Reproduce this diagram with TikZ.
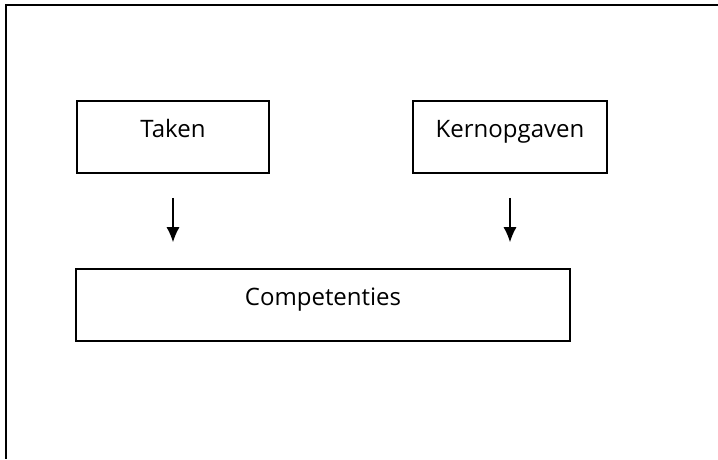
\documentclass[tikz,border=0pt]{standalone}
\usepackage{fontspec}
\setmainfont{Open Sans}
\usetikzlibrary{arrows.meta}
\begin{document}
\begin{tikzpicture}[x=1pt,y=-1pt,
	vak/.style={draw,rectangle,line width=1.6pt,minimum height=72pt,inner sep=0pt,
		text height=9pt,text depth=9pt,font=\fontsize{24}{28}\selectfont}]
	\useasboundingbox (0,0) rectangle (718,459) ;
	\draw[line width=1.6pt] (718,5) -- (6,5) -- (6,459) ;
	\node[vak,minimum width=192pt] (Taken) at (173,137) {Taken} ;
	\node[vak,minimum width=194pt] (Kern) at (510,137) {Kernopgaven} ;
	\node[vak,minimum width=494pt] (Comp) at (323,305) {Competenties} ;
	\draw[line width=1.2pt,-{Latex[length=15pt,width=13pt]}] ([yshift=-24pt]Taken.south) -- ([yshift=26pt]Taken.south |- Comp.north) ;
	\draw[line width=1.2pt,-{Latex[length=15pt,width=13pt]}] ([yshift=-24pt]Kern.south) -- ([yshift=26pt]Kern.south |- Comp.north) ;
\end{tikzpicture}
\end{document}
